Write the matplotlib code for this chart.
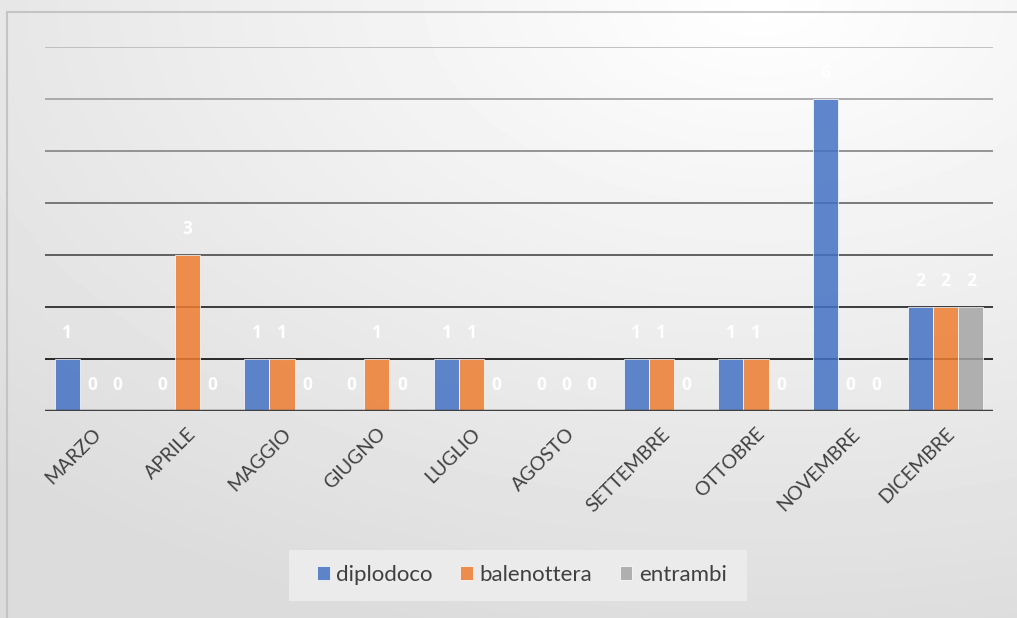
import numpy as np
import matplotlib.pyplot as plt
from matplotlib.patches import Rectangle

# ---- data ----
mesi = ["MARZO", "APRILE", "MAGGIO", "GIUGNO", "LUGLIO", "AGOSTO",
        "SETTEMBRE", "OTTOBRE", "NOVEMBRE", "DICEMBRE"]
diplodoco = [1, 0, 1, 0, 1, 0, 1, 1, 6, 2]
balenottera = [0, 3, 1, 1, 1, 0, 1, 1, 0, 2]
entrambi = [0, 0, 0, 0, 0, 0, 0, 0, 0, 2]

serie = [("diplodoco", diplodoco, "#4472C4"),
         ("balenottera", balenottera, "#ED7D31"),
         ("entrambi", entrambi, "#A5A5A5")]

plt.rcParams['font.family'] = ['Lato', 'DejaVu Sans']

W, H = 1017, 618
fig = plt.figure(figsize=(W / 100, H / 100), dpi=100)

# background gradient: lighter near the top right, greyer towards the edges
bg = fig.add_axes([0, 0, 1, 1])
yy, xx = np.mgrid[0:H, 0:W]
d = np.sqrt(((xx - 760) / W) ** 2 + ((yy - 0) / H) ** 2)
g = np.clip(1.0 - 0.13 * d, 0.86, 1.0)
bg.imshow(g, cmap="gray", vmin=0, vmax=1, extent=[0, W, H, 0], aspect="auto")
bg.set_xlim(0, W)
bg.set_ylim(H, 0)
bg.axis("off")
bg.plot([7, 7], [12, H], color="#C4C4C4", lw=1.5)
bg.plot([7, W], [12, 12], color="#C4C4C4", lw=1.5)

# plot area
x0, x1 = 45, 993
ytop, ybase = 47, 411
ax = fig.add_axes([x0 / W, 1 - ybase / H, (x1 - x0) / W, (ybase - ytop) / H])
ax.patch.set_alpha(0)
ax.set_xlim(-0.5, len(mesi) - 0.5)
ax.set_ylim(0, 7)

grid_cols = ["#1a1a1a", "#2e2e2e", "#555555", "#707070", "#8c8c8c", "#a5a5a5", "#bdbdbd"]
for k, c in zip(range(1, 8), grid_cols):
    ax.axhline(k, color=c, lw=1.3, zorder=0)
ax.axhline(0, color="#404040", lw=2.5, zorder=3)

bw = 0.265
x = np.arange(len(mesi))
for i, (nome, vals, col) in enumerate(serie):
    pos = x + (i - 1) * bw
    ax.bar(pos, vals, width=bw, color=col, alpha=0.85, edgecolor="white",
           linewidth=0.6, label=nome, zorder=2)
    for p, v in zip(pos, vals):
        ax.text(p, v + 0.5, str(v), ha="center", va="center", color="white",
                fontsize=12.5, fontweight="bold", family=["Open Sans", "DejaVu Sans"],
                zorder=4)

ax.set_yticks([])
ax.set_xticks(x)
ax.set_xticklabels(mesi, rotation=45, ha="right", rotation_mode="anchor",
                   fontsize=14, color="#404040")
ax.tick_params(axis="x", length=0, pad=10)
for s in ax.spines.values():
    s.set_visible(False)

# legend
bg.add_patch(Rectangle((289, 550), 458, 51, facecolor="#EBEBEB", edgecolor="none", zorder=5))
leg = fig.legend(loc="center", bbox_to_anchor=(522 / W, 1 - 575 / H), ncol=3,
                 frameon=False, fontsize=16, handlelength=0.55, handleheight=0.55,
                 handletextpad=0.3, columnspacing=1.25, labelcolor="#404040")
plt.savefig("out.png", dpi=100)
